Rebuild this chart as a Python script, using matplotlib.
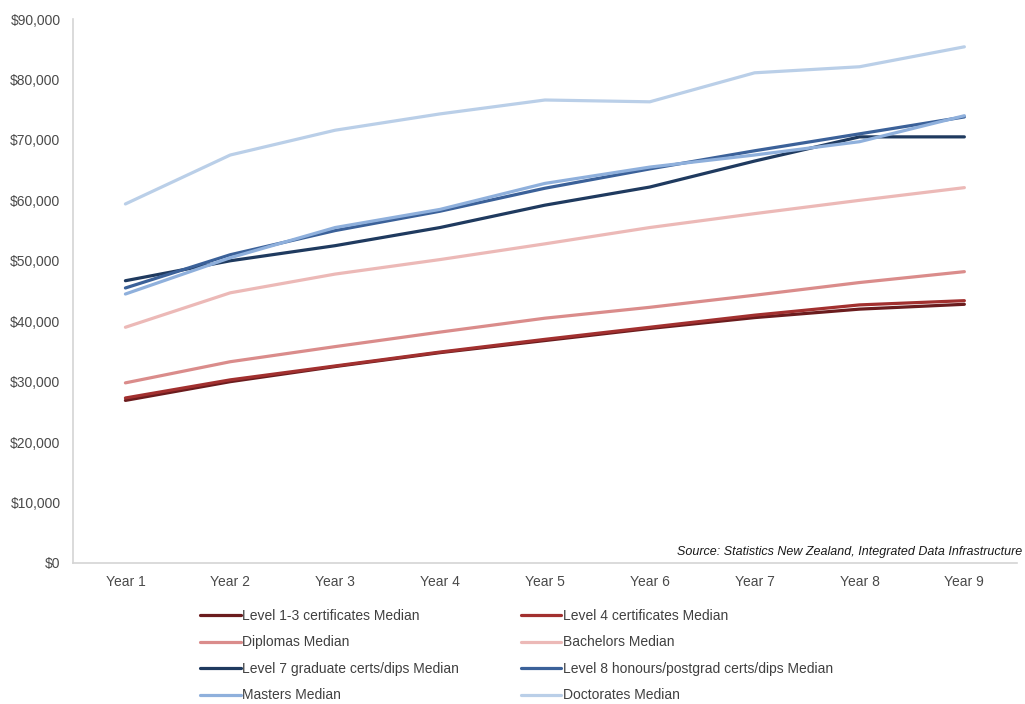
import matplotlib
matplotlib.use("Agg")
import matplotlib.pyplot as plt
from matplotlib.ticker import FuncFormatter

years = ["Year 1", "Year 2", "Year 3", "Year 4", "Year 5",
         "Year 6", "Year 7", "Year 8", "Year 9"]

level_1_3 = [26900, 30000, 32500, 34800, 36800, 38800, 40600, 42000, 42800]
level_4 = [27300, 30300, 32600, 34900, 37000, 39000, 41000, 42700, 43400]
diplomas = [29800, 33300, 35800, 38200, 40500, 42300, 44300, 46400, 48200]
bachelors = [39000, 44700, 47800, 50200, 52800, 55500, 57800, 60000, 62100]
level_7 = [46700, 50000, 52500, 55500, 59200, 62200, 66500, 70500, 70500]
level_8 = [45500, 51000, 55000, 58200, 62000, 65200, 68200, 71000, 73800]
masters = [44500, 50500, 55500, 58500, 62800, 65500, 67500, 69700, 74000]
doctorates = [59400, 67500, 71600, 74300, 76600, 76300, 81100, 82100, 85400]

labels = ["Level 1-3 certificates Median", "Level 4 certificates Median",
          "Diplomas Median", "Bachelors Median",
          "Level 7 graduate certs/dips Median",
          "Level 8 honours/postgrad certs/dips Median",
          "Masters Median", "Doctorates Median"]
series = [level_1_3, level_4, diplomas, bachelors,
          level_7, level_8, masters, doctorates]
colors = ["#6b1c1e", "#a2302f", "#da8c8b", "#ecb9b7",
          "#1f3a5f", "#3b6199", "#8fb0dc", "#bacfe8"]

plt.rcParams["font.family"] = ["Liberation Sans", "DejaVu Sans"]

fig = plt.figure(figsize=(10.25, 7.04), dpi=100)
ax = fig.add_axes([0.0712, 0.2003, 0.9208, 0.7727])

x = list(range(len(years)))
lines = []
for vals, col, lab in zip(series, colors, labels):
    ln, = ax.plot(x, vals, color=col, lw=2.3, label=lab,
                  solid_capstyle="round", solid_joinstyle="round")
    lines.append(ln)

ax.set_xlim(-0.5, 8.5)
ax.set_ylim(0, 90000)
ax.set_yticks(range(0, 90001, 10000))
ax.yaxis.set_major_formatter(FuncFormatter(lambda v, p: f"${int(v):,}"))
ax.set_xticks(x)
ax.set_xticklabels(years)
ax.tick_params(length=0, labelsize=10, labelcolor="#4a4a4a")
ax.tick_params(axis="x", pad=9)
ax.tick_params(axis="y", pad=9)

for s in ["top", "right"]:
    ax.spines[s].set_visible(False)
for s in ["left", "bottom"]:
    ax.spines[s].set_color("#d4d4d4")
    ax.spines[s].set_linewidth(1.2)

fig.text(0.997, 0.208, "Source: Statistics New Zealand, Integrated Data Infrastructure",
         ha="right", va="bottom", style="italic", fontsize=9, color="#1a1a1a")

# two legend columns, placed by hand
leg_kw = dict(frameon=False, fontsize=10, handlelength=2.9, handletextpad=0.1,
              labelspacing=0.9, labelcolor="#404040", borderaxespad=0)
leg1 = fig.legend(lines[0::2], labels[0::2], loc="upper left",
                  bbox_to_anchor=(0.190, 0.143), **leg_kw)
leg2 = fig.legend(lines[1::2], labels[1::2], loc="upper left",
                  bbox_to_anchor=(0.503, 0.143), **leg_kw)

fig.savefig("out.png", dpi=100)
